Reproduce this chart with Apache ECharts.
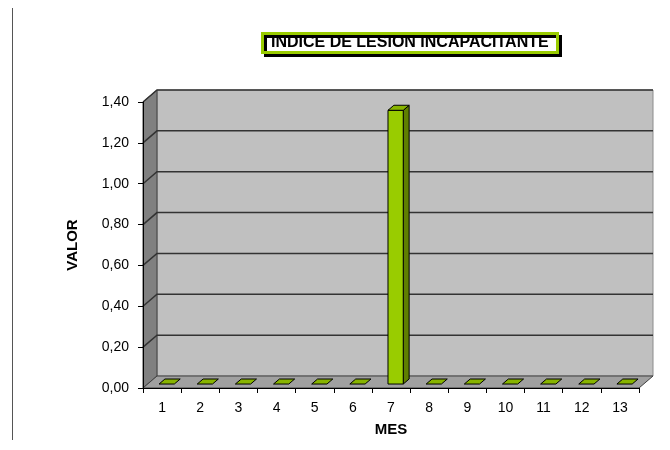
<!DOCTYPE html>
<html>
<head>
<meta charset="utf-8">
<script src="https://cdn.jsdelivr.net/npm/echarts@6/dist/echarts.min.js"></script>
<style>
  html, body { margin: 0; padding: 0; background: #fff; }
  #chart { width: 670px; height: 450px; }
</style>
</head>
<body>
<div id="chart"></div>
<script>
var titulo = 'INDICE DE LESION INCAPACITANTE';
var meses = ['1', '2', '3', '4', '5', '6', '7', '8', '9', '10', '11', '12', '13'];
var valores = [0, 0, 0, 0, 0, 0, 1.34, 0, 0, 0, 0, 0, 0];
var yMax = 1.4;
var yStep = 0.2;
var yTicks = [0, 0.2, 0.4, 0.6, 0.8, 1.0, 1.2, 1.4];

// 3D depth of the box (front plane -> back wall)
var DX = 14, DY = -12;
var fontFam = '"Liberation Sans", Arial, sans-serif';

function renderWalls(params, api) {
    var cs = params.coordSys;
    var x0 = cs.x, x1 = cs.x + cs.width;
    var yb = api.coord([0, 0])[1];
    var yt = api.coord([0, yMax])[1];
    var children = [
        {
            type: 'rect',
            shape: {x: x0 + DX, y: yt + DY, width: cs.width, height: yb - yt},
            style: {fill: '#c0c0c0', stroke: '#8c8c8c', lineWidth: 1}
        },
        {
            type: 'polygon',
            shape: {points: [[x0, yb], [x0, yt], [x0 + DX, yt + DY], [x0 + DX, yb + DY]]},
            style: {fill: '#808080', stroke: '#404040', lineWidth: 1}
        },
        {
            type: 'polygon',
            shape: {points: [[x0, yb], [x1, yb], [x1 + DX, yb + DY], [x0 + DX, yb + DY]]},
            style: {fill: '#a0a0a0', stroke: '#404040', lineWidth: 1}
        }
    ];
    yTicks.forEach(function (v) {
        if (v === 0) return;
        var y = api.coord([0, v])[1];
        children.push({
            type: 'polyline',
            shape: {points: [[x0, y], [x0 + DX, y + DY], [x1 + DX, y + DY]]},
            style: {stroke: '#333333', lineWidth: 1.5, fill: null}
        });
    });
    return {type: 'group', children: children};
}

function renderBar(params, api) {
    var i = api.value(0);
    var c0 = api.coord([i, 0]);
    var c1 = api.coord([i, api.value(1)]);
    var bw = api.size([1, 0])[0] * 0.4;
    var fx = DX * 0.33, fy = DY * 0.33;
    var bx = DX * 0.42, by = DY * 0.42;
    var left = c0[0] - bw / 2 + fx;
    var right = left + bw;
    var bottom = c0[1] + fy;
    var top = c1[1] + fy;
    var children = [];
    if (bottom - top > 0.5) {
        children.push({
            type: 'polygon',
            shape: {points: [[right, top], [right + bx, top + by], [right + bx, bottom + by], [right, bottom]]},
            style: {fill: '#5f7f00', stroke: '#000', lineWidth: 1}
        });
        children.push({
            type: 'rect',
            shape: {x: left, y: top, width: bw, height: bottom - top},
            style: {fill: '#99cc00', stroke: '#000', lineWidth: 1}
        });
    }
    children.push({
        type: 'polygon',
        shape: {points: [[left, top], [right, top], [right + bx, top + by], [left + bx, top + by]]},
        style: {fill: '#88b400', stroke: '#000', lineWidth: 1}
    });
    return {type: 'group', children: children};
}

var option = {
    animation: false,
    backgroundColor: '#ffffff',
    title: {
        text: titulo,
        left: 262,
        top: 33,
        padding: [2, 9],
        backgroundColor: '#ffffff',
        borderColor: '#99cc00',
        borderWidth: 3,
        shadowColor: '#000000',
        shadowBlur: 0,
        shadowOffsetX: 3,
        shadowOffsetY: 3,
        textStyle: {
            fontFamily: fontFam,
            fontSize: 16,
            fontWeight: 'bold',
            color: '#000'
        }
    },
    graphic: [{
        type: 'line',
        shape: {x1: 12.5, y1: 8, x2: 12.5, y2: 440},
        style: {stroke: '#555555', lineWidth: 1}
    }],
    grid: {
        left: 143,
        right: 31,
        top: 102,
        bottom: 62
    },
    xAxis: {
        type: 'category',
        data: meses,
        z: 5,
        name: 'MES',
        nameLocation: 'middle',
        nameGap: 34,
        nameTextStyle: {fontFamily: fontFam, fontSize: 15, fontWeight: 'bold', color: '#000'},
        axisLine: {lineStyle: {color: '#000', width: 1}},
        axisTick: {show: true, length: 5, lineStyle: {color: '#000'}},
        axisLabel: {fontFamily: fontFam, fontSize: 14, color: '#000', margin: 13},
        splitLine: {show: false}
    },
    yAxis: {
        type: 'value',
        min: 0,
        max: yMax,
        interval: yStep,
        z: 5,
        name: 'VALOR',
        nameLocation: 'middle',
        nameRotate: 90,
        nameGap: 63,
        nameTextStyle: {fontFamily: fontFam, fontSize: 15, fontWeight: 'bold', color: '#000'},
        axisLine: {show: true, lineStyle: {color: '#000', width: 1}},
        axisTick: {show: true, length: 5, lineStyle: {color: '#000'}},
        axisLabel: {
            fontFamily: fontFam, fontSize: 14, color: '#000', margin: 14,
            formatter: function (v) { return v.toFixed(2).replace('.', ','); }
        },
        splitLine: {show: false}
    },
    series: [
        {
            type: 'custom',
            name: 'walls',
            z: 1,
            silent: true,
            renderItem: renderWalls,
            data: [[0, 0]]
        },
        {
            type: 'custom',
            name: 'VALOR',
            z: 3,
            renderItem: renderBar,
            data: valores.map(function (v, i) { return [i, v]; })
        }
    ]
};

echarts.init(document.getElementById('chart')).setOption(option);
</script>
</body>
</html>
